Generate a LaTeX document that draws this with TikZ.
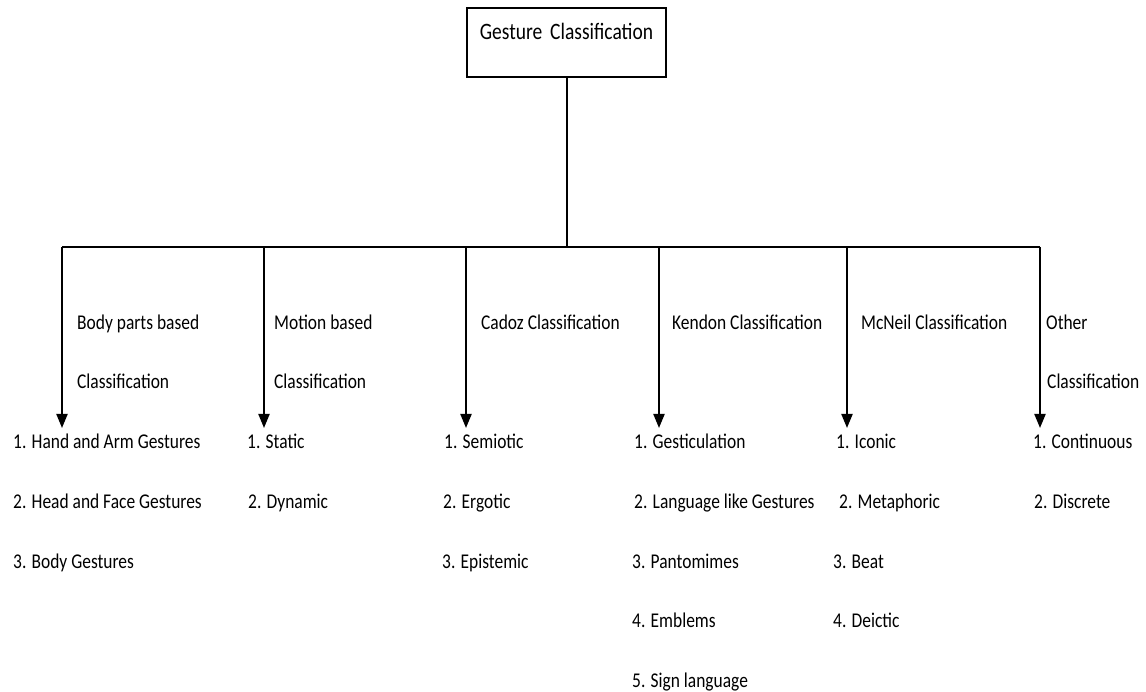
\documentclass[tikz,border=0pt]{standalone}
\usepackage{fontspec}
\setmainfont{Carlito}[FakeStretch=0.83]
\usetikzlibrary{arrows.meta}
\tikzset{
  branch/.style={line width=2pt, -{Triangle[length=14pt,width=11pt]}},
  link/.style={line width=2pt},
  txt/.style={anchor=base west, inner sep=0pt, font=\fontsize{21}{25}\selectfont},
}
\begin{document}
\begin{tikzpicture}[x=1pt, y=-1pt]
    \useasboundingbox (0,0) rectangle (1146,692);

    % Radice
    \node[draw, line width=2pt, inner sep=0pt, text width=199pt, align=center,
          text height=32pt, text depth=37pt, anchor=base,
          font=\fontsize{23.5}{27}\selectfont] (root) at (566.5,40) {Gesture Classification};

    % Barra orizzontale
    \coordinate (hub) at (root.south |- 0,247);
    \coordinate (b1) at (62,247);
    \coordinate (b2) at (264,247);
    \coordinate (b3) at (466,247);
    \coordinate (b4) at (659,247);
    \coordinate (b5) at (847,247);
    \coordinate (b6) at (1040,247);
    \draw[link] (root.south) -- (hub);
    \draw[link] (b1) -- (b6);

    % Punte delle frecce
    \coordinate (t1) at (62,428);
    \coordinate (t2) at (264,428);
    \coordinate (t3) at (466,428);
    \coordinate (t4) at (659,428);
    \coordinate (t5) at (847,428);
    \coordinate (t6) at (1040,428);
    \draw[branch] (b1) -- (t1);
    \draw[branch] (b2) -- (t2);
    \draw[branch] (b3) -- (t3);
    \draw[branch] (b4) -- (t4);
    \draw[branch] (b5) -- (t5);
    \draw[branch] (b6) -- (t6);

    % Nomi delle classificazioni
    \node[txt] (cat1a) at (77,330) {Body parts based};
    \node[txt] (cat1b) at (77,389) {Classification};
    \node[txt] (cat2a) at (274,330) {Motion based};
    \node[txt] (cat2b) at (274,389) {Classification};
    \node[txt] (cat3) at (481,330) {Cadoz Classification};
    \node[txt] (cat4) at (672,330) {Kendon Classification};
    \node[txt] (cat5) at (861,330) {McNeil Classification};
    \node[txt] (cat6a) at (1046,330) {Other};
    \node[txt] (cat6b) at (1047,389) {Classification};

    % Body parts based
    \node[txt] (body1) at (13,449) {1. Hand and Arm Gestures};
    \node[txt] (body2) at (13,508) {2. Head and Face Gestures};
    \node[txt] (body3) at (13,568) {3. Body Gestures};

    % Motion based
    \node[txt] (mot1) at (247,449) {1. Static};
    \node[txt] (mot2) at (248,508) {2. Dynamic};

    % Cadoz
    \node[txt] (cad1) at (444,449) {1. Semiotic};
    \node[txt] (cad2) at (443,508) {2. Ergotic};
    \node[txt] (cad3) at (442,568) {3. Epistemic};

    % Kendon
    \node[txt] (ken1) at (634,449) {1. Gesticulation};
    \node[txt] (ken2) at (634,508) {2. Language like Gestures};
    \node[txt] (ken3) at (632,568) {3. Pantomimes};
    \node[txt] (ken4) at (632,627) {4. Emblems};
    \node[txt] (ken5) at (632,687) {5. Sign language};

    % McNeil
    \node[txt] (mcn1) at (836,449) {1. Iconic};
    \node[txt] (mcn2) at (839,508) {2. Metaphoric};
    \node[txt] (mcn3) at (833,568) {3. Beat};
    \node[txt] (mcn4) at (833,627) {4. Deictic};

    % Other
    \node[txt] (oth1) at (1033,449) {1. Continuous};
    \node[txt] (oth2) at (1034,508) {2. Discrete};
\end{tikzpicture}
\end{document}
